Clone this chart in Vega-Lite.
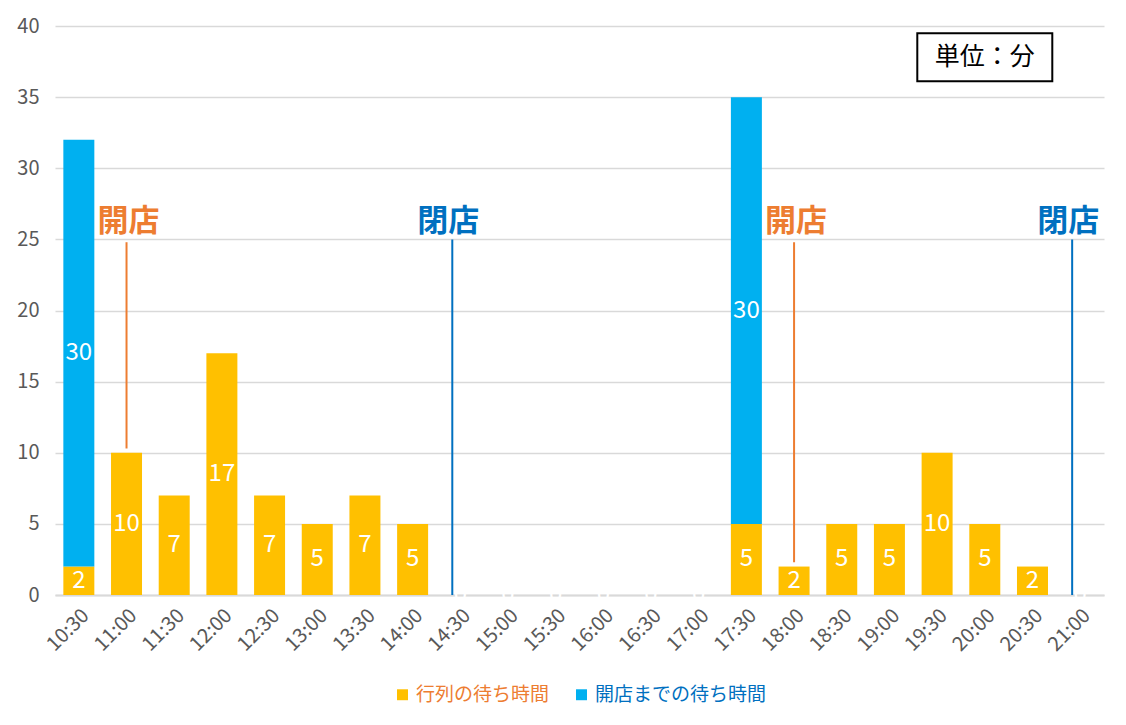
{
  "$schema": "https://vega.github.io/schema/vega-lite/v6.json",
  "autosize": {"type": "fit", "contains": "padding"},
  "width": 1126,
  "height": 725,
  "padding": {"left": 16, "top": 16, "right": 22, "bottom": 20},
  "config": {
    "view": {"stroke": null},
    "font": "Noto Sans CJK JP",
    "axis": {"labelFont": "Noto Sans CJK JP", "labelColor": "#595959", "labelFontSize": 20, "ticks": false, "title": null},
    "legend": {"layout": {"bottom": {"anchor": "middle"}}}
  },
  "layer": [
    {
      "data": {
        "values": [
          {"time": "10:30", "series": "行列の待ち時間", "value": 2},
          {"time": "10:30", "series": "開店までの待ち時間", "value": 30},
          {"time": "11:00", "series": "行列の待ち時間", "value": 10},
          {"time": "11:30", "series": "行列の待ち時間", "value": 7},
          {"time": "12:00", "series": "行列の待ち時間", "value": 17},
          {"time": "12:30", "series": "行列の待ち時間", "value": 7},
          {"time": "13:00", "series": "行列の待ち時間", "value": 5},
          {"time": "13:30", "series": "行列の待ち時間", "value": 7},
          {"time": "14:00", "series": "行列の待ち時間", "value": 5},
          {"time": "14:30", "series": "行列の待ち時間", "value": 0},
          {"time": "15:00", "series": "行列の待ち時間", "value": 0},
          {"time": "15:30", "series": "行列の待ち時間", "value": 0},
          {"time": "16:00", "series": "行列の待ち時間", "value": 0},
          {"time": "16:30", "series": "行列の待ち時間", "value": 0},
          {"time": "17:00", "series": "行列の待ち時間", "value": 0},
          {"time": "17:30", "series": "行列の待ち時間", "value": 5},
          {"time": "17:30", "series": "開店までの待ち時間", "value": 30},
          {"time": "18:00", "series": "行列の待ち時間", "value": 2},
          {"time": "18:30", "series": "行列の待ち時間", "value": 5},
          {"time": "19:00", "series": "行列の待ち時間", "value": 5},
          {"time": "19:30", "series": "行列の待ち時間", "value": 10},
          {"time": "20:00", "series": "行列の待ち時間", "value": 5},
          {"time": "20:30", "series": "行列の待ち時間", "value": 2},
          {"time": "21:00", "series": "行列の待ち時間", "value": 0}
        ]
      },
      "transform": [
        {"stack": "value", "groupby": ["time"], "sort": [{"field": "series", "order": "ascending"}], "as": ["y0", "y1"]},
        {"calculate": "(datum.y0 + datum.y1) / 2", "as": "mid"}
      ],
      "layer": [
        {
          "mark": {"type": "bar"},
          "encoding": {
            "x": {
              "field": "time", "type": "nominal", "sort": null,
              "scale": {"paddingInner": 0.35, "paddingOuter": 0.175},
              "axis": {"labelAngle": -45, "domainColor": "#d9d9d9", "domainWidth": 2, "labelPadding": 10}
            },
            "y": {
              "field": "y0", "type": "quantitative",
              "scale": {"domain": [0, 40]},
              "axis": {"values": [0, 5, 10, 15, 20, 25, 30, 35, 40], "gridColor": "#d9d9d9", "gridWidth": 1.5, "domain": false, "labelPadding": 16}
            },
            "y2": {"field": "y1"},
            "color": {
              "field": "series", "type": "nominal",
              "scale": {"domain": ["行列の待ち時間", "開店までの待ち時間"], "range": ["#FFC000", "#00B0F0"]},
              "legend": {
                "orient": "bottom", "direction": "horizontal", "title": null,
                "symbolType": "square", "symbolSize": 120, "symbolStrokeWidth": 0,
                "labelFontSize": 19, "labelFont": "Noto Sans CJK JP", "labelLimit": 0, "columnPadding": 22, "offset": 30,
                "encode": {
                  "labels": {"update": {"fill": {"signal": "datum.label == '行列の待ち時間' ? '#ED7D31' : '#0070C0'"}}}
                }
              }
            }
          }
        },
        {
          "mark": {"type": "text", "color": "white", "fontSize": 24, "baseline": "middle", "align": "center"},
          "encoding": {
            "x": {"field": "time", "type": "nominal", "sort": null},
            "y": {"field": "mid", "type": "quantitative"},
            "text": {"field": "value", "type": "quantitative"}
          }
        }
      ]
    },
    {
      "data": {"values": [{"time": "11:00", "from": 10.3, "to": 24.8}, {"time": "18:00", "from": 2.3, "to": 24.8}]},
      "mark": {"type": "rule", "color": "#ED7D31", "strokeWidth": 2},
      "encoding": {
        "x": {"field": "time", "type": "nominal", "sort": null},
        "y": {"field": "from", "type": "quantitative"},
        "y2": {"field": "to"}
      }
    },
    {
      "data": {"values": [{"time": "14:30", "from": 0, "to": 25}, {"time": "21:00", "from": 0, "to": 25}]},
      "mark": {"type": "rule", "color": "#0070C0", "strokeWidth": 2, "xOffset": -8},
      "encoding": {
        "x": {"field": "time", "type": "nominal", "sort": null},
        "y": {"field": "from", "type": "quantitative"},
        "y2": {"field": "to"}
      }
    },
    {
      "data": {"values": [{"time": "11:00", "y": 26.2, "label": "開店"}, {"time": "18:00", "y": 26.2, "label": "開店"}]},
      "mark": {"type": "text", "color": "#ED7D31", "fontSize": 31, "fontWeight": "bold", "baseline": "middle", "xOffset": 2},
      "encoding": {
        "x": {"field": "time", "type": "nominal", "sort": null},
        "y": {"field": "y", "type": "quantitative"},
        "text": {"field": "label"}
      }
    },
    {
      "data": {"values": [{"time": "14:30", "y": 26.2, "label": "閉店"}, {"time": "21:00", "y": 26.2, "label": "閉店"}]},
      "mark": {"type": "text", "color": "#0070C0", "fontSize": 31, "fontWeight": "bold", "baseline": "middle", "xOffset": -12},
      "encoding": {
        "x": {"field": "time", "type": "nominal", "sort": null},
        "y": {"field": "y", "type": "quantitative"},
        "text": {"field": "label"}
      }
    },
    {
      "data": {"values": [{"time": "20:00", "y": 37.8, "label": "単位：分"}]},
      "layer": [
        {
          "mark": {"type": "point", "shape": "M-1,-0.355H1V0.355H-1Z", "size": 18225, "filled": false, "stroke": "black", "strokeWidth": 2, "opacity": 1},
          "encoding": {
            "x": {"field": "time", "type": "nominal", "sort": null},
            "y": {"field": "y", "type": "quantitative"}
          }
        },
        {
          "mark": {"type": "text", "color": "black", "fontSize": 25, "baseline": "middle"},
          "encoding": {
            "x": {"field": "time", "type": "nominal", "sort": null},
            "y": {"field": "y", "type": "quantitative"},
            "text": {"field": "label"}
          }
        }
      ]
    }
  ]
}
